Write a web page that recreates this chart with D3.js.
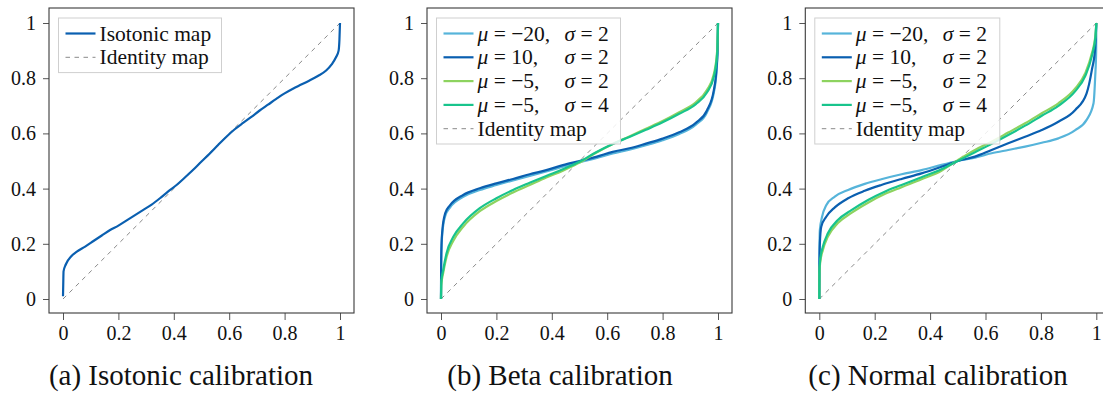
<!DOCTYPE html>
<html>
<head>
<meta charset="utf-8">
<script src="https://cdn.jsdelivr.net/npm/d3@7"></script>
<style>
  body { margin: 0; background: #fff; }
  svg { display: block; }
</style>
</head>
<body>
<div id="chart"></div>
<script>
// tick labels shared by all three panels
const tickValues = [0, 0.2, 0.4, 0.6, 0.8, 1];
const tickLabels = ['0', '0.2', '0.4', '0.6', '0.8', '1'];

const captions = ['(a) Isotonic calibration', '(b) Beta calibration', '(c) Normal calibration'];

// (a) isotonic map as [x, y]
const isotonic = [
  [0, 0.01], [0.001, 0.06], [0.002, 0.1], [0.01, 0.125], [0.03, 0.155], [0.05, 0.172],
  [0.08, 0.19], [0.11, 0.21], [0.14, 0.23], [0.17, 0.25], [0.2, 0.266], [0.23, 0.285],
  [0.26, 0.304], [0.29, 0.323], [0.32, 0.342], [0.35, 0.365], [0.38, 0.39], [0.41, 0.413],
  [0.44, 0.44], [0.47, 0.468], [0.5, 0.498], [0.53, 0.527], [0.56, 0.558], [0.59, 0.588],
  [0.62, 0.615], [0.65, 0.638], [0.68, 0.66], [0.71, 0.683], [0.74, 0.704], [0.77, 0.725],
  [0.8, 0.745], [0.83, 0.762], [0.86, 0.777], [0.89, 0.792], [0.92, 0.808], [0.95, 0.828],
  [0.97, 0.85], [0.985, 0.875], [0.995, 0.9], [0.998, 0.94], [1, 1],
];

// (b) beta calibration maps
const betaMuM20 = [
  [0, 0], [0.0005, 0.11], [0.002, 0.19], [0.005, 0.24], [0.015, 0.3], [0.033, 0.332],
  [0.08, 0.37], [0.14, 0.395], [0.2, 0.413], [0.26, 0.43], [0.32, 0.446], [0.38, 0.462],
  [0.44, 0.479], [0.5, 0.495], [0.56, 0.51], [0.62, 0.527], [0.68, 0.541], [0.74, 0.557],
  [0.8, 0.575], [0.86, 0.598], [0.92, 0.632], [0.96, 0.676], [0.985, 0.748], [0.995, 0.83],
  [0.999, 0.915], [1, 1],
];
const betaMu10 = [
  [0, 0], [0.0005, 0.12], [0.002, 0.2], [0.005, 0.25], [0.015, 0.31], [0.033, 0.34],
  [0.08, 0.377], [0.14, 0.401], [0.2, 0.419], [0.26, 0.435], [0.32, 0.452], [0.38, 0.467],
  [0.44, 0.485], [0.5, 0.5], [0.56, 0.515], [0.62, 0.533], [0.68, 0.546], [0.74, 0.563],
  [0.8, 0.581], [0.86, 0.604], [0.92, 0.638], [0.96, 0.683], [0.985, 0.757], [0.995, 0.84],
  [0.999, 0.92], [1, 1],
];
const betaMuM5S2 = [
  [0, 0], [0.001, 0.05], [0.008, 0.095], [0.02, 0.152], [0.045, 0.212], [0.08, 0.262],
  [0.14, 0.318], [0.2, 0.355], [0.26, 0.386], [0.32, 0.413], [0.38, 0.44], [0.44, 0.465],
  [0.5, 0.494], [0.56, 0.53], [0.62, 0.562], [0.68, 0.589], [0.74, 0.617], [0.8, 0.645],
  [0.86, 0.677], [0.92, 0.713], [0.96, 0.757], [0.985, 0.815], [0.997, 0.9], [1, 1],
];
const betaMuM5S4 = [
  [0, 0], [0.001, 0.06], [0.008, 0.105], [0.02, 0.166], [0.045, 0.226], [0.08, 0.274],
  [0.14, 0.329], [0.2, 0.365], [0.26, 0.395], [0.32, 0.421], [0.38, 0.446], [0.44, 0.47],
  [0.5, 0.497], [0.56, 0.532], [0.62, 0.562], [0.68, 0.587], [0.74, 0.613], [0.8, 0.64],
  [0.86, 0.671], [0.92, 0.706], [0.96, 0.748], [0.985, 0.805], [0.997, 0.89], [1, 1],
];

// (c) normal calibration maps
const normMuM20 = [
  [0, 0], [0.0003, 0.15], [0.002, 0.25], [0.01, 0.298], [0.025, 0.34], [0.056, 0.371],
  [0.104, 0.395], [0.164, 0.417], [0.224, 0.434], [0.297, 0.452], [0.369, 0.467], [0.441, 0.486],
  [0.5, 0.5], [0.562, 0.512], [0.622, 0.528], [0.682, 0.54], [0.743, 0.552], [0.803, 0.566],
  [0.863, 0.582], [0.924, 0.612], [0.965, 0.649], [0.99, 0.709], [0.996, 0.805], [0.9995, 0.9],
  [1, 1],
];
const normMu10 = [
  [0, 0], [0.0005, 0.117], [0.002, 0.2], [0.007, 0.262], [0.025, 0.298], [0.056, 0.332],
  [0.104, 0.365], [0.164, 0.392], [0.224, 0.413], [0.297, 0.435], [0.369, 0.455], [0.441, 0.479],
  [0.5, 0.5], [0.562, 0.516], [0.622, 0.54], [0.682, 0.564], [0.743, 0.588], [0.803, 0.612],
  [0.863, 0.642], [0.924, 0.685], [0.965, 0.745], [0.984, 0.83], [0.996, 0.91], [1, 1],
];
const normMuM5S2 = [
  [0, 0], [0.0005, 0.09], [0.003, 0.13], [0.013, 0.178], [0.031, 0.226], [0.067, 0.275],
  [0.116, 0.312], [0.176, 0.349], [0.236, 0.38], [0.297, 0.405], [0.369, 0.434], [0.441, 0.465],
  [0.5, 0.503], [0.562, 0.54], [0.622, 0.57], [0.682, 0.603], [0.743, 0.637], [0.803, 0.673],
  [0.863, 0.709], [0.924, 0.763], [0.96, 0.818], [0.984, 0.89], [0.997, 0.955], [1, 1],
];
const normMuM5S4 = [
  [0, 0], [0.0005, 0.1], [0.003, 0.14], [0.013, 0.19], [0.031, 0.238], [0.067, 0.286],
  [0.116, 0.322], [0.176, 0.359], [0.236, 0.389], [0.297, 0.413], [0.369, 0.441], [0.441, 0.47],
  [0.5, 0.5], [0.562, 0.532], [0.622, 0.562], [0.682, 0.594], [0.743, 0.628], [0.803, 0.664],
  [0.863, 0.7], [0.924, 0.753], [0.96, 0.808], [0.984, 0.88], [0.997, 0.95], [1, 1],
];

const identity = [[0, 0], [1, 1]];

// legend entries for (b) and (c): mu part, sigma part
const paramMu = ['\u221220,', '10,', '\u22125,', '\u22125,'];
const paramSigma = ['2', '2', '2', '4'];
const seriesColors = ['#56b4da', '#0a5fb0', '#8dd35f', '#18c48c'];

const panels = [
  { x0: 63, caption: captions[0], series: [isotonic], colors: ['#0a5fb0'], legendW: 163, captionX: 181 },
  { x0: 441, caption: captions[1], series: [betaMuM20, betaMu10, betaMuM5S2, betaMuM5S4], colors: seriesColors, legendW: 184, captionX: 560 },
  { x0: 819.3, caption: captions[2], series: [normMuM20, normMu10, normMuM5S2, normMuM5S4], colors: seriesColors, legendW: 185, captionX: 938 },
];

const plotSize = 277;
const pad = 14;
const yTop = 23;
const serif = '"Liberation Serif"';

const svg = d3.select('#chart').append('svg')
    .attr('width', 1103)
    .attr('height', 397);

panels.forEach((p, pi) => {
  const xScale = d3.scaleLinear()
      .domain([0, 1])
      .range([p.x0, p.x0 + plotSize]);

  const yScale = d3.scaleLinear()
      .domain([0, 1])
      .range([yTop + 276, yTop]);

  const g = svg.append('g').attr('class', 'panel');

  const boxLeft = p.x0 - pad;
  const boxTop = yTop - 15;
  const boxBottom = yTop + 276 + pad;

  // axes
  const xAxis = d3.axisBottom(xScale)
      .tickValues(tickValues)
      .tickFormat((d, i) => tickLabels[i])
      .tickSize(7)
      .tickPadding(6);

  const yAxis = d3.axisLeft(yScale)
      .tickValues(tickValues)
      .tickFormat((d, i) => tickLabels[i])
      .tickSize(6)
      .tickPadding(7);

  const gx = g.append('g')
      .attr('transform', `translate(0, ${boxBottom})`)
      .call(xAxis);
  gx.select('.domain').remove();
  gx.selectAll('line').attr('stroke', '#555');
  gx.selectAll('text')
      .style('font-family', serif)
      .style('font-size', '20px')
      .attr('fill', '#111');

  const gy = g.append('g')
      .attr('transform', `translate(${boxLeft}, 0)`)
      .call(yAxis);
  gy.select('.domain').remove();
  gy.selectAll('line').attr('stroke', '#555');
  gy.selectAll('text')
      .style('font-family', serif)
      .style('font-size', '20px')
      .attr('fill', '#111');

  const line = d3.line()
      .x(d => xScale(d[0]))
      .y(d => yScale(d[1]))
      .curve(d3.curveMonotoneX);

  // identity
  g.append('path')
      .datum(identity)
      .attr('d', d3.line().x(d => xScale(d[0])).y(d => yScale(d[1])))
      .attr('fill', 'none')
      .attr('stroke', '#8a8a8a')
      .attr('stroke-width', 1)
      .attr('stroke-dasharray', '4.5,4.5');

  p.series.forEach((s, si) => {
    g.append('path')
        .datum(s)
        .attr('d', line)
        .attr('fill', 'none')
        .attr('stroke', p.colors[si])
        .attr('stroke-width', 2.2)
        .attr('stroke-linejoin', 'round');
  });

  // frame
  g.append('rect')
      .attr('x', boxLeft)
      .attr('y', boxTop)
      .attr('width', plotSize + 2 * pad)
      .attr('height', boxBottom - boxTop)
      .attr('fill', 'none')
      .attr('stroke', '#3a3a3a')
      .attr('stroke-width', 1.1);

  // legend
  const lx = boxLeft + 9.5;
  const ly = 18;
  const rowH = 23.8;
  const nRows = pi === 0 ? 2 : 5;
  const legend = g.append('g').attr('class', 'legend');

  legend.append('rect')
      .attr('x', lx)
      .attr('y', ly)
      .attr('width', p.legendW)
      .attr('height', nRows * rowH + 7)
      .attr('fill', '#fff')
      .attr('fill-opacity', 0.85)
      .attr('stroke', '#cfcfcf')
      .attr('stroke-width', 1);

  const rowY = i => ly + 15.5 + i * rowH;
  const lineX1 = lx + 7;
  const lineX2 = lx + 37;
  const textX = lx + 41;

  const entries = [];
  if (pi === 0) {
    entries.push({ color: p.colors[0], dash: null, label: 'Isotonic map' });
  } else {
    paramMu.forEach((m, i) => entries.push({ color: p.colors[i], dash: null, mu: m, sigma: paramSigma[i] }));
  }
  entries.push({ color: '#8a8a8a', dash: '4.5,4.5', label: 'Identity map' });

  entries.forEach((e, i) => {
    legend.append('line')
        .attr('x1', lineX1)
        .attr('x2', lineX2)
        .attr('y1', rowY(i))
        .attr('y2', rowY(i))
        .attr('stroke', e.color)
        .attr('stroke-width', e.dash ? 1 : 2.2)
        .attr('stroke-dasharray', e.dash);

    const t = legend.append('text')
        .attr('x', textX)
        .attr('y', rowY(i) + 7)
        .style('font-family', serif)
        .style('font-size', '21.5px')
        .attr('fill', '#111');

    if (e.label) {
      t.text(e.label);
    } else {
      t.append('tspan').style('font-style', 'italic').text('\u03bc');
      t.append('tspan').text(` = ${e.mu}`);
      t.append('tspan').attr('x', textX + 87).style('font-style', 'italic').text('\u03c3');
      t.append('tspan').text(` = ${e.sigma}`);
    }
  });

  // caption
  svg.append('text')
      .attr('x', p.captionX)
      .attr('y', 385)
      .attr('text-anchor', 'middle')
      .style('font-family', serif)
      .style('font-size', '29px')
      .attr('fill', '#111')
      .text(p.caption);
});
</script>
</body>
</html>
